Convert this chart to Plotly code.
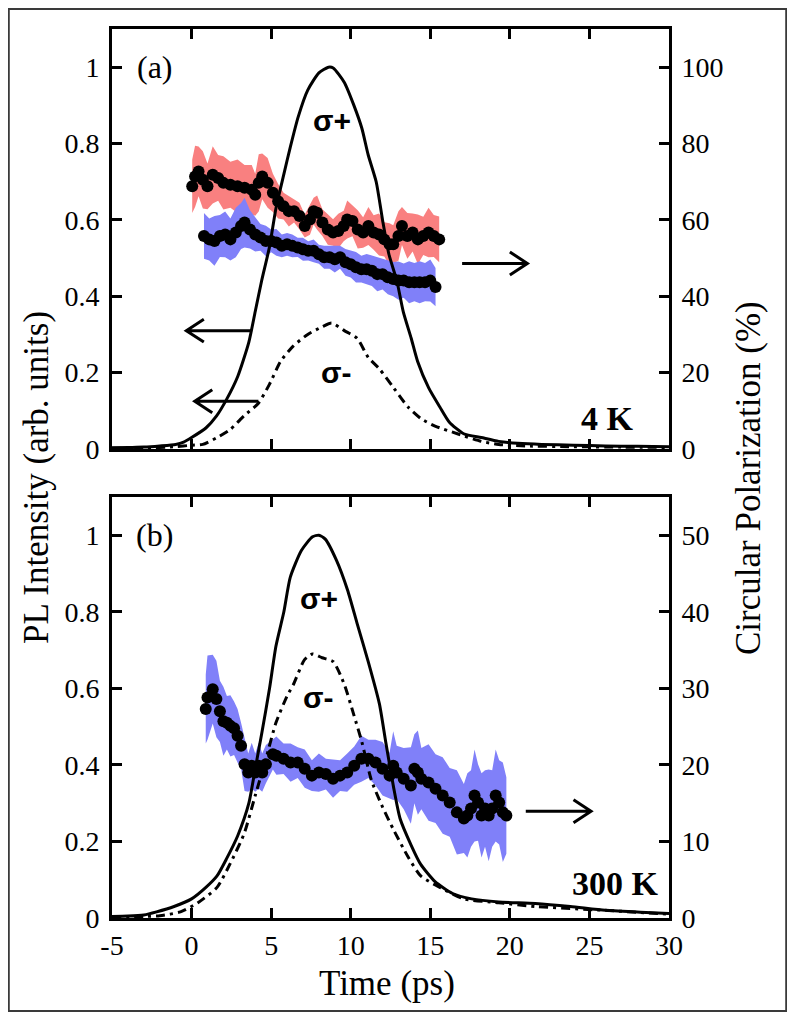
import plotly.graph_objects as go

# ---------------- Panel (a) 4 K ----------------
t_a_plus = [-5, -4, -3, -2, -1, -0.5, 0, 0.9, 1.56, 2.2, 2.9, 3.6, 4.0, 4.4, 4.9, 5.3, 5.8, 6.2, 6.7, 7.3,
            8.0, 8.6, 8.9, 9.6, 10.2, 10.7, 11.1, 11.6, 12.0, 12.4, 12.9, 13.3, 13.8, 14.2, 14.9, 15.6,
            16.2, 17.1, 18.2, 19.3, 20.5, 22, 24, 26, 28, 30]
i_a_plus = [0.003, 0.004, 0.005, 0.008, 0.012, 0.018, 0.03, 0.055, 0.086, 0.13, 0.19, 0.28, 0.36, 0.44, 0.53,
            0.63, 0.72, 0.79, 0.87, 0.94, 0.985, 1.0, 0.998, 0.96, 0.90, 0.84, 0.77, 0.70, 0.60, 0.51, 0.44,
            0.36, 0.29, 0.23, 0.16, 0.11, 0.07, 0.04, 0.03, 0.02, 0.015, 0.012, 0.01, 0.008, 0.007, 0.006]

t_a_minus = [-5, -3, -1, 0, 0.7, 1.6, 2.4, 3.3, 4.2, 4.9, 5.6, 6.4, 7.3, 8.2, 8.8, 9.6, 10.4, 11.1, 11.8,
             12.7, 13.6, 14.4, 15.3, 16.7, 18.2, 19.3, 21, 24, 27, 30]
i_a_minus = [0.002, 0.003, 0.006, 0.01, 0.012, 0.03, 0.05, 0.087, 0.12, 0.17, 0.23, 0.27, 0.30, 0.32, 0.33,
             0.31, 0.29, 0.24, 0.21, 0.16, 0.11, 0.08, 0.06, 0.04, 0.02, 0.012, 0.008, 0.006, 0.005, 0.004]

t_a_red = [0.04, 0.22, 0.44, 0.71, 1.0, 1.33, 1.67, 2.0, 2.44, 2.89, 3.33, 3.78, 4.0, 4.22, 4.44, 4.78, 5.11,
           5.44, 5.78, 6.11, 6.44, 6.78, 7.11, 7.44, 7.67, 7.89, 8.22, 8.56, 8.89, 9.22, 9.56, 9.78, 10.11,
           10.44, 10.78, 11.11, 11.44, 11.78, 12.11, 12.44, 12.67, 13.0, 13.22, 13.56, 13.89, 14.22, 14.56,
           14.89, 15.22, 15.56]
p_a_red = [68.8, 71.4, 72.7, 70.5, 68.8, 71.8, 71.0, 69.7, 69.2, 68.8, 68.4, 67.9, 66.6, 69.7, 71.4, 69.7, 67.1,
           64.9, 63.6, 62.3, 62.3, 61.0, 58.4, 60.1, 62.3, 61.9, 59.3, 57.5, 56.7, 57.1, 58.4, 60.1, 59.7,
           57.5, 56.7, 58.4, 56.7, 56.2, 54.9, 53.6, 53.6, 55.8, 58.4, 55.8, 56.7, 54.9, 55.8, 56.7, 55.8, 54.9]
e_a_red = [7.0, 8.0, 6.5, 7.5, 6.0, 7.5, 6.0, 7.0, 6.0, 7.0, 6.0, 6.5, 5.5, 7.5, 6.0, 6.5, 5.0,
           4.5, 3.5, 4.0, 3.0, 3.5, 3.0, 4.0, 3.5, 4.5, 3.5, 4.0, 3.5, 4.5, 4.0, 5.0, 4.0,
           5.0, 4.0, 5.0, 4.5, 5.5, 4.5, 5.5, 5.0, 6.5, 5.0, 6.0, 5.0, 6.5, 5.0, 6.5, 5.5, 6.0]

t_a_blue = [0.78, 1.11, 1.44, 1.78, 2.11, 2.44, 2.78, 3.11, 3.33, 3.67, 4.0, 4.33, 4.67, 5.0, 5.33, 5.67, 6.0,
            6.33, 6.67, 7.0, 7.33, 7.67, 8.0, 8.33, 8.67, 9.0, 9.33, 9.67, 10.0, 10.33, 10.67, 11.0, 11.33,
            11.67, 12.0, 12.33, 12.67, 13.0, 13.33, 13.67, 14.0, 14.33, 14.67, 15.0, 15.33]
p_a_blue = [55.8, 54.9, 54.5, 55.8, 56.2, 54.9, 56.7, 58.4, 59.3, 57.5, 56.2, 55.4, 54.5, 54.5, 54.1, 53.2, 53.6,
            53.2, 52.8, 52.3, 51.9, 51.9, 51.0, 50.2, 50.2, 49.7, 50.2, 48.9, 48.4, 47.6, 47.1, 47.1, 46.7,
            45.8, 45.8, 45.0, 44.5, 44.1, 44.1, 43.7, 43.7, 43.7, 43.7, 44.1, 42.4]
e_a_blue = [6.0, 5.5, 6.5, 5.5, 6.0, 5.5, 6.5, 6.0, 6.5, 5.0, 4.5, 3.5, 4.0, 3.0, 3.5, 3.0, 3.0,
            3.0, 2.5, 3.0, 2.5, 3.0, 2.5, 3.0, 3.0, 3.5, 3.0, 3.5, 3.5, 4.0, 3.5, 4.0, 4.0,
            4.5, 4.0, 4.5, 4.5, 5.0, 4.5, 5.5, 5.0, 5.5, 5.0, 5.5, 5.0]

# ---------------- Panel (b) 300 K ----------------
t_b_plus = [-5, -4, -3, -2.2, -1.1, 0, 0.9, 1.6, 2.2, 2.9, 3.6, 4.0, 4.4, 4.9, 5.3, 5.8, 6.2, 6.9, 7.6, 8.0,
            8.4, 9.1, 9.8, 10.4, 11.1, 11.8, 12.2, 12.7, 13.1, 13.8, 14.4, 15.3, 16.4, 17.6, 19.3, 21.6,
            23.8, 26, 28.2, 30]
i_b_plus = [0.004, 0.005, 0.008, 0.016, 0.03, 0.05, 0.08, 0.11, 0.155, 0.215, 0.30, 0.39, 0.48, 0.60, 0.71,
            0.80, 0.89, 0.96, 0.996, 1.0, 0.99, 0.935, 0.857, 0.77, 0.67, 0.56, 0.46, 0.34, 0.26, 0.19, 0.14,
            0.095, 0.064, 0.05, 0.042, 0.038, 0.03, 0.02, 0.015, 0.012]

t_b_minus = [-5, -3, -2, -0.7, 0.4, 1.6, 2.4, 3.3, 4.0, 4.7, 5.3, 6.0, 6.4, 7.1, 7.6, 8.2, 8.9, 9.6, 10.2,
             10.7, 11.3, 12.0, 12.7, 13.6, 14.4, 15.6, 17.1, 19.3, 21.6, 26, 30]
i_b_minus = [0.002, 0.004, 0.006, 0.016, 0.04, 0.08, 0.14, 0.22, 0.32, 0.42, 0.51, 0.58, 0.61, 0.675, 0.69,
             0.68, 0.67, 0.61, 0.53, 0.46, 0.36, 0.29, 0.23, 0.16, 0.11, 0.08, 0.05, 0.04, 0.03, 0.02, 0.01]

t_b_pol = [0.89, 1.0, 1.33, 1.56, 1.78, 2.0, 2.22, 2.44, 2.67, 2.89, 3.11, 3.33, 3.56, 3.78, 4.0, 4.22, 4.44,
           4.67, 5.11, 5.33, 5.78, 6.22, 6.67, 7.11, 7.56, 8.0, 8.44, 8.89, 9.33, 9.78, 10.22, 10.67, 11.11,
           11.56, 12.0, 12.44, 12.67, 12.89, 13.33, 13.78, 14.0, 14.22, 14.44, 14.89, 15.33, 15.78, 16.22,
           16.67, 17.11, 17.33, 17.56, 17.78, 18.0, 18.22, 18.44, 18.67, 18.89, 19.11, 19.33, 19.56, 19.78]
p_b_pol = [27.3, 28.8, 29.9, 28.6, 27.0, 25.7, 25.5, 25.1, 24.8, 23.8, 22.5, 20.1, 19.0, 19.9, 19.0, 19.9, 19.0,
           20.1, 21.4, 21.2, 20.8, 20.3, 20.3, 19.5, 18.6, 19.0, 18.8, 18.2, 18.6, 19.0, 19.9, 20.8, 20.8,
           20.3, 19.5, 18.6, 19.9, 19.0, 18.2, 17.3, 19.5, 19.0, 18.2, 17.7, 16.9, 16.0, 15.1,
           13.8, 13.0, 13.4, 14.3, 16.0, 15.1, 13.4, 14.3, 13.4, 14.3, 16.0, 15.1, 13.8, 13.4]
e_b_pol = [4.5, 5.5, 4.5, 5.0, 4.0, 4.5, 3.5, 4.0, 3.5, 3.5, 3.0, 3.5, 2.5, 3.0, 2.5, 3.0, 2.5,
           2.5, 2.0, 2.5, 2.0, 2.5, 2.0, 2.5, 2.0, 2.5, 2.0, 2.5, 2.0, 2.5, 2.5, 3.0, 2.5,
           3.0, 3.5, 3.0, 4.5, 3.5, 4.0, 5.0, 4.5, 5.5, 4.0, 5.0, 4.5, 5.0, 4.5,
           5.5, 4.5, 5.5, 5.0, 6.0, 5.0, 5.5, 5.0, 6.0, 5.0, 6.0, 5.5, 6.5, 5.0]

# ---------------- labels ----------------
x_ticks = [-5, 0, 5, 10, 15, 20, 25, 30]
x_ticktext = ["-5", "0", "5", "10", "15", "20", "25", "30"]
int_ticks = [0, 0.2, 0.4, 0.6, 0.8, 1]
int_ticktext = ["0", "0.2", "0.4", "0.6", "0.8", "1"]
pol_ticks_a = [0, 20, 40, 60, 80, 100]
pol_ticks_b = [0, 10, 20, 30, 40, 50]
x_title = "Time (ps)"
y_left_title = "PL Intensity (arb. units)"
y_right_title = "Circular Polarization (%)"

SERIF = "Liberation Serif"
SANS = "Liberation Sans"
RED = "#F98080"
BLUE = "#8080F9"

W, H = 779, 1004
OFF = 8  # page margin around the figure


def px(xs):
    return (xs - OFF) / W


def py(ys):
    return 1 - (ys - OFF) / H


xd = [px(112), px(669)]
top_dom = [py(449), py(29)]
bot_dom = [py(918), py(497)]

fig = go.Figure()


def band(t, p, e, color, xa, ya):
    up = [a + b for a, b in zip(p, e)]
    lo = [a - b for a, b in zip(p, e)]
    fig.add_trace(go.Scatter(x=t + t[::-1], y=up + lo[::-1], fill="toself", fillcolor=color,
                             mode="lines", line=dict(width=0), xaxis=xa, yaxis=ya,
                             hoverinfo="skip", showlegend=False))


def curve(t, v, dash, xa, ya):
    fig.add_trace(go.Scatter(x=t, y=v, mode="lines",
                             line=dict(color="black", width=3, dash=dash, shape="spline", smoothing=0.6),
                             xaxis=xa, yaxis=ya, showlegend=False))


def dots(t, p, xa, ya):
    fig.add_trace(go.Scatter(x=t, y=p, mode="markers", marker=dict(color="black", size=12),
                             xaxis=xa, yaxis=ya, showlegend=False))


DASHDOT = "9px,5px,3px,5px"

# panel a
band(t_a_red, p_a_red, e_a_red, RED, "x", "y")
band(t_a_blue, p_a_blue, e_a_blue, BLUE, "x", "y")
curve(t_a_plus, i_a_plus, "solid", "x", "y2")
curve(t_a_minus, i_a_minus, DASHDOT, "x", "y2")
dots(t_a_red, p_a_red, "x", "y3")
dots(t_a_blue, p_a_blue, "x", "y3")

# panel b
band(t_b_pol, p_b_pol, e_b_pol, BLUE, "x2", "y4")
curve(t_b_plus, i_b_plus, "solid", "x2", "y5")
curve(t_b_minus, i_b_minus, DASHDOT, "x2", "y5")
dots(t_b_pol, p_b_pol, "x2", "y6")

tickfont = dict(family=SERIF, size=28, color="black")
common_ax = dict(showline=True, linecolor="black", linewidth=3, ticks="inside", ticklen=10,
                 tickwidth=2.5, tickcolor="black", showgrid=False, zeroline=False, tickfont=tickfont,
                 automargin=False)

xcommon = dict(common_ax, domain=xd, range=[-5, 30], tickvals=x_ticks, ticktext=x_ticktext, mirror="ticks")

fig.update_layout(
    width=W, height=H, margin=dict(l=0, r=0, t=0, b=0),
    paper_bgcolor="white", plot_bgcolor="white", showlegend=False,
    xaxis=dict(xcommon, anchor="y", showticklabels=False),
    yaxis=dict(common_ax, domain=top_dom, range=[0, 110], side="right", anchor="x",
               tickvals=pol_ticks_a, ticklabelstandoff=4),
    yaxis2=dict(common_ax, overlaying="y", range=[0, 1.1], side="left", anchor="x",
                tickvals=int_ticks, ticktext=int_ticktext, ticklabelstandoff=4),
    yaxis3=dict(overlaying="y", range=[0, 110], visible=False),
    xaxis2=dict(xcommon, anchor="y4", showticklabels=True, ticklabelstandoff=0),
    yaxis4=dict(common_ax, domain=bot_dom, range=[0, 55], side="right", anchor="x2",
                tickvals=pol_ticks_b, ticklabelstandoff=4),
    yaxis5=dict(common_ax, overlaying="y4", range=[0, 1.1], side="left", anchor="x2",
                tickvals=int_ticks, ticktext=int_ticktext, ticklabelstandoff=4),
    yaxis6=dict(overlaying="y4", range=[0, 55], visible=False),
)

ann = []
lab = dict(family=SERIF, size=32, color="black")
ann.append(dict(text="(a)", x=-2.3, y=1.0, xref="x", yref="y2", showarrow=False, font=lab))
ann.append(dict(text="(b)", x=-2.3, y=1.0, xref="x2", yref="y5", showarrow=False, font=lab))
sig = dict(family=SANS, size=30, color="black")
ann.append(dict(text="<b>σ+</b>", x=8.8, y=0.86, xref="x", yref="y2", showarrow=False, font=sig))
ann.append(dict(text="<b>σ-</b>", x=9.1, y=0.2, xref="x", yref="y2", showarrow=False, font=sig))
ann.append(dict(text="<b>σ+</b>", x=8.0, y=0.835, xref="x2", yref="y5", showarrow=False, font=sig))
ann.append(dict(text="<b>σ-</b>", x=8.0, y=0.575, xref="x2", yref="y5", showarrow=False, font=sig))
bk = dict(family=SERIF, size=34, color="black")
ann.append(dict(text="<b>4 K</b>", x=27.9, y=0.08, xref="x", yref="y2", showarrow=False, font=bk,
                xanchor="right", yanchor="middle"))
ann.append(dict(text="<b>300 K</b>", x=29.5, y=0.09, xref="x2", yref="y5", showarrow=False, font=bk,
                xanchor="right", yanchor="middle"))
title_font = dict(family=SERIF, size=35, color="black")
ann.append(dict(text=x_title, x=px(387), y=py(983), xref="paper", yref="paper",
                xanchor="center", yanchor="middle", showarrow=False, font=title_font))
ann.append(dict(text=y_left_title, x=px(36), y=py(478), xref="paper", yref="paper",
                xanchor="center", yanchor="middle", showarrow=False, font=title_font, textangle=-90))
ann.append(dict(text=y_right_title, x=px(748), y=py(478), xref="paper", yref="paper",
                xanchor="center", yanchor="middle", showarrow=False, font=title_font, textangle=-90))
fig.update_layout(annotations=ann)

shapes = []


def arrow(x0, x1, y, xr, yr):
    d = 1.0 if x1 > x0 else -1.0
    hx = x1 - d * 1.1
    path = f"M {x0},{y} L {x1},{y} M {hx},{y + 0.03} L {x1},{y} L {hx},{y - 0.03}"
    shapes.append(dict(type="path", path=path, xref=xr, yref=yr, line=dict(color="black", width=3)))


arrow(17.0, 21.1, 0.486, "x", "y2")
arrow(3.8, -0.33, 0.31, "x", "y2")
arrow(4.2, 0.2, 0.125, "x", "y2")
arrow(21.0, 25.1, 0.279, "x2", "y5")
shapes.append(dict(type="rect", xref="paper", yref="paper", x0=0.001, x1=0.999, y0=0.001, y1=0.999,
                   line=dict(color="#3a3a3a", width=2)))
fig.update_layout(shapes=shapes)

fig.write_html("out.html")
